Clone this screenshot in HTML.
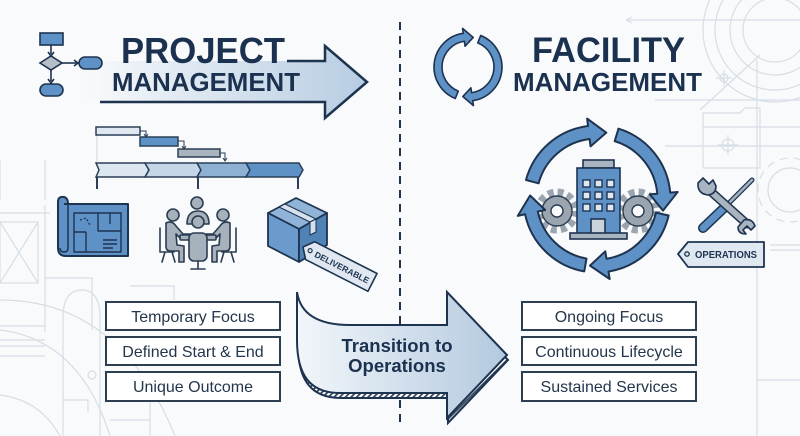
<!DOCTYPE html>
<html><head><meta charset="utf-8">
<style>html,body{margin:0;padding:0;background:#f9fafb;}svg{display:block}</style></head>
<body>
<svg width="800" height="436" viewBox="0 0 800 436" xmlns="http://www.w3.org/2000/svg" font-family="'Liberation Sans', Arial, sans-serif">
<defs>
<linearGradient id="g1" x1="62" y1="0" x2="367" y2="0" gradientUnits="userSpaceOnUse">
<stop offset="0" stop-color="#f9fafb" stop-opacity="0"/>
<stop offset="0.25" stop-color="#eaf0f6"/>
<stop offset="1" stop-color="#b7cde2"/>
</linearGradient>
<linearGradient id="g2" x1="297" y1="0" x2="507" y2="0" gradientUnits="userSpaceOnUse">
<stop offset="0" stop-color="#f2f6fa"/>
<stop offset="1" stop-color="#b3c9df"/>
</linearGradient>
<pattern id="hatch" width="4" height="4" patternUnits="userSpaceOnUse" patternTransform="rotate(45)">
<rect width="4" height="4" fill="#ffffff"/>
<rect width="1.7" height="4" fill="#2a3f57"/>
</pattern>
</defs>
<rect width="800" height="436" fill="#f9fafb"/>

<!-- faint background blueprint lines -->
<g fill="none" stroke="#d6dee6" stroke-width="1.2">
  <!-- left bottom -->
  <path d="M0,213 H50 M45,205 V332 M0,326 H45"/>
  <rect x="0" y="222" width="38" height="61"/>
  <path d="M0,222 L38,283 M38,222 L0,283"/>
  <path d="M45,278 H92 V330 M130,286 H174 V300"/>
  <path d="M0,340 H45 M0,346 H45 M0,356 H45"/>
  <path d="M63,436 V318 Q63,290 82,290 Q100,290 100,318 V436"/>
  <path d="M0,300 Q120,300 175,436"/>
  <path d="M0,330 Q80,340 110,436"/>
  <path d="M0,395 Q40,400 60,436"/>
  <circle cx="92" cy="375" r="4"/>
  <path d="M63,400 H88 V412 M110,420 H150 M150,400 V436"/>
  <path d="M0,160 V200 M45,160 V200"/>
  <!-- right top -->
  <circle cx="775" cy="30" r="72"/>
  <circle cx="775" cy="30" r="60"/>
  <circle cx="775" cy="30" r="45"/>
  <circle cx="775" cy="30" r="32"/>
  <path d="M626,20 H800 M626,20 l6,-3 M626,20 l6,3"/>
  <path d="M655,100 H800 M757,60 V436 M700,110 L760,55"/>
  <circle cx="724" cy="78" r="4"/>
  <path d="M716,78 H732 M724,70 V86"/>
  <path d="M703,168 V113 H740 L745,108 H760 V168 H703"/>
  <circle cx="728" cy="145" r="6"/>
  <path d="M718,145 H738 M728,135 V155 M665,146 H800"/>
  <path d="M703,127 H800"/>
  <circle cx="790" cy="190" r="22"/>
  <circle cx="790" cy="190" r="32" stroke-dasharray="8 6"/>
  <path d="M770,245 H800 M770,250 H800 M757,380 H800"/>
</g>

<!-- dashed divider -->
<path d="M400,22 V428" stroke="#1e3350" stroke-width="2" stroke-dasharray="8 6"/>

<!-- PROJECT arrow -->
<path d="M62,61 L325,61 L325,46 L367,82 L325,118 L325,102 L62,102 Z" fill="url(#g1)"/>
<path d="M287,61 H325 V46 L367,82 L325,118 V102 H100" fill="none" stroke="#1e3350" stroke-width="2.5" stroke-linejoin="miter"/>
<text x="121" y="63" font-size="36" font-weight="bold" fill="#1b3150" textLength="164" lengthAdjust="spacingAndGlyphs">PROJECT</text>
<text x="112" y="91" font-size="25.5" font-weight="bold" fill="#1b3150" textLength="188" lengthAdjust="spacingAndGlyphs">MANAGEMENT</text>

<!-- flowchart icon -->
<g stroke="#1e3350" stroke-width="1.6">
  <rect x="40" y="33" width="23" height="12" fill="#5e92c6"/>
  <path d="M51,45 V54" fill="none"/>
  <path d="M48,52 L51,56 L54,52" fill="none"/>
  <polygon points="40,63 51,56 62,63 51,70" fill="#b6bfc8"/>
  <path d="M62,63 H77" fill="none"/>
  <path d="M74,60 L78,63 L74,66" fill="none"/>
  <rect x="79" y="57" width="23" height="12" rx="6" fill="#5e92c6"/>
  <path d="M51,70 V81" fill="none"/>
  <path d="M48,79 L51,83 L54,79" fill="none"/>
  <rect x="40" y="84" width="23" height="12" rx="6" fill="#5e92c6"/>
</g>

<!-- gantt -->
<g stroke="#2a3f57" stroke-width="1.5">
  <path d="M97,135 V163" stroke="#cfd8e1" stroke-width="1"/>
  <rect x="96" y="127" width="44" height="8" fill="#dfe8f1"/>
  <rect x="140" y="137" width="38" height="9" fill="#5e92c6"/>
  <rect x="178" y="149" width="42" height="8" fill="#aab4be"/>
  <path d="M140,131 H146 V136 M178,141 H184 V148 M220,153 H225 V160" fill="none" stroke-width="1"/>
  <path d="M144,134 L146,137 L148,134 M182,146 L184,149 L186,146 M223,158 L225,161 L227,158" fill="none" stroke-width="1"/>
  <polygon points="96,163 145,163 149,170 145,177 96,177 99,170" fill="#dce6f0"/>
  <polygon points="145,163 197,163 201,170 197,177 145,177 149,170" fill="#c4d6e8"/>
  <polygon points="197,163 246,163 250,170 246,177 197,177 201,170" fill="#8db0d3"/>
  <polygon points="246,163 299,163 303,170 299,177 246,177 250,170" fill="#5e92c6"/>
  <path d="M97,177 V189 M198,177 V189 M298,177 V189" fill="none" stroke-width="2"/>
</g>

<!-- blueprint icon -->
<g stroke="#1e3350" stroke-width="2" stroke-linejoin="round">
  <path d="M64,204 H128 V256 H66 Q58,256 58,248 V202 Q58,196 64,197 Q68,198 68,204" fill="#5e92c6"/>
  <path d="M68,204 V248 Q68,252 64,252 Q60,252 60,248" fill="none" stroke-width="1.5"/>
  <g fill="none" stroke-width="1.4">
    <rect x="74" y="213" width="47" height="39"/>
    <path d="M98,213 V231 H121 M74,232 H86 M86,232 V252 M110,213 V224"/>
    <path d="M80,220 L86,218 L90,225" stroke-dasharray="2 2"/>
    <path d="M103,240 H117 M103,244 H117 M103,248 H113"/>
  </g>
</g>

<!-- people icon -->
<g fill="#a7b1bb" stroke="#2a3d52" stroke-width="1.6" stroke-linejoin="round" stroke-linecap="round">
  <path d="M187,224 Q187,211 198,211 Q209,211 209,224 Z"/>
  <circle cx="197" cy="203" r="6"/>
  <g id="lp">
    <path d="M160,228 V252 H174 M165,252 L162,262 M172,252 L175,262" fill="none"/>
    <circle cx="173" cy="215" r="6"/>
    <path d="M166,223 Q172,220 176,226 L183,234 L190,234 L190,239 L181,239 L176,234 L177,245 L184,246 L184,262 L179,262 L179,251 L170,251 Q166,251 166,246 Z"/>
  </g>
  <use href="#lp" transform="translate(396,0) scale(-1,1)"/>
  <rect x="180" y="235" width="36" height="5" rx="1"/>
  <circle cx="198" cy="222" r="6"/>
  <rect x="189" y="233" width="18" height="28" rx="5"/>
  <path d="M198,261 V268 M191,269 H205" fill="none"/>
</g>

<!-- box icon -->
<g stroke="#1e3350" stroke-width="1.8" stroke-linejoin="round">
  <polygon points="296,198 268,213 299,229 327,213" fill="#8fb4d8"/>
  <polygon points="268,213 299,229 299,262 268,246" fill="#6a9bcc"/>
  <polygon points="299,229 327,213 327,245 299,262" fill="#4f82b5"/>
  <polygon points="279,207 285,204 316,219 310,222" fill="#d5e1ec" stroke-width="1"/>
  <polygon points="310,222 316,219 316,232 310,235" fill="#d5e1ec" stroke-width="1"/>
</g>
<g transform="translate(303,247) rotate(27)">
  <polygon points="0,0 8,-10 78,-10 78,10 8,10" fill="#dfe8f1" stroke="#1e3350" stroke-width="1.6" stroke-linejoin="round"/>
  <circle cx="8" cy="0" r="2" fill="none" stroke="#1e3350" stroke-width="1.2"/>
  <text x="14" y="3.5" font-size="8.5" font-weight="bold" fill="#1e3350" textLength="60" lengthAdjust="spacingAndGlyphs">DELIVERABLE</text>
</g>

<!-- left boxes -->
<g fill="#ffffff" stroke="#2c3e50" stroke-width="2">
  <rect x="106" y="302" width="174" height="28"/>
  <rect x="106" y="337" width="174" height="28"/>
  <rect x="106" y="372" width="174" height="29"/>
  <rect x="522" y="302" width="174" height="28"/>
  <rect x="522" y="337" width="174" height="28"/>
  <rect x="522" y="372" width="174" height="29"/>
</g>
<g font-size="16" fill="#24364b" text-anchor="middle">
  <text x="193" y="322">Temporary Focus</text>
  <text x="193" y="357">Defined Start &amp; End</text>
  <text x="193" y="392">Unique Outcome</text>
  <text x="609" y="322">Ongoing Focus</text>
  <text x="609" y="357">Continuous Lifecycle</text>
  <text x="609" y="392">Sustained Services</text>
</g>

<!-- transition arrow -->
<g stroke="#1e3350" stroke-width="2" stroke-linejoin="miter">
  <path transform="translate(1,5)" d="M297,292 C300,312 315,325 350,325 L447,325 L447,292 L507,355 L447,418 L447,393 L340,393 C310,393 297,375 297,340 Z" fill="url(#hatch)"/>
  <path d="M297,292 C300,312 315,325 350,325 L447,325 L447,292 L507,355 L447,418 L447,393 L340,393 C310,393 297,375 297,340 Z" fill="url(#g2)"/>
</g>
<text x="397" y="352" font-size="18.5" font-weight="bold" fill="#1b3150" text-anchor="middle">Transition to</text>
<text x="397" y="372" font-size="18.5" font-weight="bold" fill="#1b3150" text-anchor="middle">Operations</text>

<!-- FACILITY header -->
<g fill="#5e92c6" stroke="#1e3350" stroke-width="1.6" stroke-linejoin="round">
  <path id="ca" transform="translate(468,67) rotate(112)" d="M34,0 A34,34 0 0 1 -29.44,17 L-33.77,19.5 L-29.34,6.24 L-18.19,10.5 L-22.52,13 A26,26 0 0 0 26,0 Z"/>
  <path transform="translate(468,67) rotate(292)" d="M34,0 A34,34 0 0 1 -29.44,17 L-33.77,19.5 L-29.34,6.24 L-18.19,10.5 L-22.52,13 A26,26 0 0 0 26,0 Z"/>
</g>
<text x="532" y="62" font-size="35" font-weight="bold" fill="#1b3150" textLength="153" lengthAdjust="spacingAndGlyphs">FACILITY</text>
<text x="513" y="91" font-size="25.5" font-weight="bold" fill="#1b3150" textLength="189" lengthAdjust="spacingAndGlyphs">MANAGEMENT</text>

<!-- gears behind building -->
<g fill="#9aa5b0" stroke="#2a3d52" stroke-width="1.4">
  <circle cx="557" cy="211" r="19" fill="none" stroke="#9aa5b0" stroke-width="7" stroke-dasharray="6 4"/>
  <circle cx="557" cy="211" r="15"/>
  <circle cx="557" cy="211" r="6" fill="#f9fafb"/>
  <circle cx="638" cy="211" r="19" fill="none" stroke="#9aa5b0" stroke-width="7" stroke-dasharray="6 4"/>
  <circle cx="638" cy="211" r="15"/>
  <circle cx="638" cy="211" r="6" fill="#f9fafb"/>
</g>
<!-- building -->
<g stroke="#1e3350" stroke-width="1.6">
  <rect x="583" y="160" width="31" height="8" fill="#a8b4c0"/>
  <rect x="577" y="168" width="43" height="66" fill="#5e92c6"/>
  <g fill="#dfe8f1" stroke-width="1.4">
    <rect x="583" y="180" width="7" height="7"/><rect x="595" y="180" width="7" height="7"/><rect x="607" y="180" width="7" height="7"/>
    <rect x="583" y="192" width="7" height="7"/><rect x="595" y="192" width="7" height="7"/><rect x="607" y="192" width="7" height="7"/>
    <rect x="583" y="204" width="7" height="7"/><rect x="595" y="204" width="7" height="7"/><rect x="607" y="204" width="7" height="7"/>
  </g>
  <rect x="591" y="219" width="14" height="15" fill="#c9d3dc"/>
  <rect x="570" y="233" width="57" height="6" fill="#a8b4c0"/>
</g>

<!-- cycle arrows -->
<g fill="#5e92c6" stroke="#1e3350" stroke-width="2" stroke-linejoin="round">
  <path transform="translate(597,199) rotate(195)" d="M73.5,0 A73.5,73.5 0 0 1 27.53,68.15 L30.34,75.10 L8.17,66.50 L19.85,49.14 L22.66,56.10 A60.5,60.5 0 0 0 60.5,0 Z"/>
  <path transform="translate(597,199) rotate(287)" d="M73.5,0 A73.5,73.5 0 0 1 27.53,68.15 L30.34,75.10 L8.17,66.50 L19.85,49.14 L22.66,56.10 A60.5,60.5 0 0 0 60.5,0 Z"/>
  <path transform="translate(597,199) rotate(13)" d="M73.5,0 A73.5,73.5 0 0 1 27.53,68.15 L30.34,75.10 L8.17,66.50 L19.85,49.14 L22.66,56.10 A60.5,60.5 0 0 0 60.5,0 Z"/>
  <path transform="translate(597,199) rotate(100)" d="M73.5,0 A73.5,73.5 0 0 1 27.53,68.15 L30.34,75.10 L8.17,66.50 L19.85,49.14 L22.66,56.10 A60.5,60.5 0 0 0 60.5,0 Z"/>
</g>

<!-- tools -->
<g stroke-linecap="round">
  <path d="M752,180 L726,206" stroke="#1e3350" stroke-width="5"/>
  <path d="M752,180 L726,206" stroke="#a8b4c0" stroke-width="2.5"/>
  <path d="M724,208 L703,228" stroke="#1e3350" stroke-width="10"/>
  <path d="M724,208 L703,228" stroke="#5e92c6" stroke-width="7"/>
  <path d="M708,189 L747,224" stroke="#1e3350" stroke-width="9"/>
  <path d="M708,189 L747,224" stroke="#a8b4c0" stroke-width="6"/>
</g>
<g fill="#a8b4c0" stroke="#1e3350" stroke-width="1.6" stroke-linejoin="round">
  <path d="M698,183 L703,178 L709,184 L713,180 L716,186 Q716,194 708,195 Q699,194 698,186 Z"/>
  <path d="M744,220 Q752,218 755,226 L751,230 L747,226 L743,230 L746,234 Q738,234 738,227 Z"/>
</g>

<!-- OPERATIONS tag -->
<polygon points="678,254 688,242 764,242 764,267 688,267" fill="#dfe8f1" stroke="#1e3350" stroke-width="1.8" stroke-linejoin="round"/>
<circle cx="687" cy="254" r="2.2" fill="none" stroke="#1e3350" stroke-width="1.3"/>
<text x="695" y="258" font-size="10" font-weight="bold" fill="#1e3350" textLength="62" lengthAdjust="spacingAndGlyphs">OPERATIONS</text>
</svg>
</body></html>
